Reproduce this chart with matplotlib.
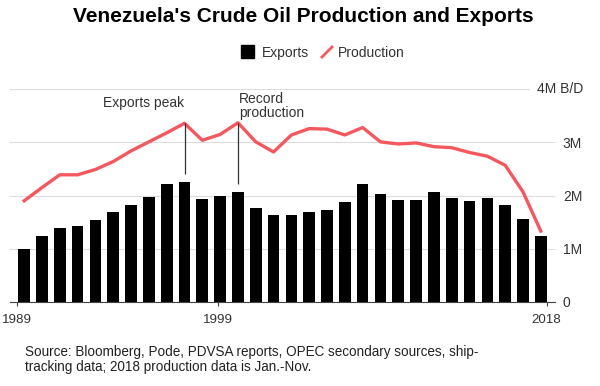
import matplotlib
matplotlib.use("Agg")
import matplotlib.pyplot as plt
from matplotlib.patches import Rectangle
from matplotlib.lines import Line2D
from matplotlib.transforms import blended_transform_factory

plt.rcParams['font.family'] = ['Liberation Sans', 'DejaVu Sans']

years = list(range(1989, 2019))
exports = [0.99, 1.24, 1.38, 1.43, 1.54, 1.69, 1.82, 1.98, 2.21, 2.26,
           1.93, 2.00, 2.07, 1.77, 1.64, 1.63, 1.68, 1.73, 1.87, 2.21,
           2.02, 1.91, 1.91, 2.07, 1.95, 1.89, 1.95, 1.82, 1.56, 1.24]
production = [1.90, 2.15, 2.39, 2.39, 2.49, 2.64, 2.84, 3.01, 3.18, 3.36,
              3.04, 3.15, 3.37, 3.01, 2.82, 3.14, 3.26, 3.25, 3.14, 3.28,
              3.01, 2.97, 2.99, 2.92, 2.90, 2.81, 2.74, 2.57, 2.07, 1.33]
y_ticks = [0, 1, 2, 3]
y_labels = ["0", "1M", "2M", "3M"]
x_tick_labels = ["1989", "1999", "2018"]
x_tick_pos = [1988.61, 1999.9, 2018.33]

W, H = 600, 386
fig = plt.figure(figsize=(6, 3.86), dpi=100)
fx = lambda px: px / W
fy = lambda py: 1 - py / H

ax = fig.add_axes([fx(10), fy(301.7), fx(554.5) - fx(10), fy(89.3) - fy(301.7)])

RED = "#f4585f"
TXT = "#333333"

ax.bar(years, exports, width=0.655, color="black", zorder=3)
ax.plot(years, production, color=RED, lw=2.4, zorder=4, solid_joinstyle='round')

ax.set_xlim(1989 - 0.796, 2018 + 0.77)
ax.set_ylim(0, 4)

for s in ['top', 'left', 'right']:
    ax.spines[s].set_visible(False)
ax.spines['bottom'].set_color('#444444')
ax.spines['bottom'].set_linewidth(0.8)
ax.spines['bottom'].set_zorder(2)

ax.set_yticks([0, 1, 2, 3, 4])
ax.set_yticklabels(y_labels + [""])
ax.yaxis.tick_right()
ax.tick_params(axis='y', length=0, pad=6, labelsize=10, labelcolor=TXT)
ax.grid(axis='y', color='#dcdcdc', lw=0.8, zorder=0)
ax.set_axisbelow(True)

ax.set_xticks(x_tick_pos)
ax.set_xticklabels(x_tick_labels)
ax.tick_params(axis='x', length=3.2, width=0.8, color='#444444', pad=6,
               labelsize=9.6, labelcolor=TXT)

# top y label
tr = blended_transform_factory(fig.transFigure, ax.transData)
ax.text(fx(583), 4, "4M B/D", transform=tr, ha='right', va='center',
        fontsize=10, color=TXT,
        bbox=dict(boxstyle='square,pad=0.5', fc='white', ec='none'), zorder=5)

# annotations
i98 = years.index(1998)
i01 = years.index(2001)
ax.vlines(1998, exports[i98] + 0.14, production[i98] + 0.01, color='#333333', lw=0.9, zorder=5)
ax.vlines(2001, exports[i01] + 0.14, production[i01], color='#333333', lw=0.9, zorder=5)
ax.text(1998, 3.661, "Exports peak", ha='right', va='baseline', fontsize=10, color=TXT)
ax.text(2001.05, 3.736, "Record", ha='left', va='baseline', fontsize=10, color=TXT)
ax.text(2001.05, 3.484, "production", ha='left', va='baseline', fontsize=10, color=TXT)

# title
fig.text(0.505, fy(21.7), "Venezuela's Crude Oil Production and Exports", ha='center',
         va='baseline', fontsize=15, fontweight='bold', color='black')

# legend
fig.patches.append(Rectangle((fx(241), fy(58)), fx(254) - fx(241), fy(45) - fy(58),
                             transform=fig.transFigure, color='black'))
fig.text(fx(261.5), fy(56.7), "Exports", ha='left', va='baseline', fontsize=10, color=TXT)
fig.lines.append(Line2D([fx(322), fx(332)], [fy(57), fy(47)], transform=fig.transFigure,
                        color=RED, lw=2.0))
fig.text(fx(337.5), fy(56.7), "Production", ha='left', va='baseline', fontsize=10, color=TXT)

# source
fig.text(fx(25), fy(355.7), "Source: Bloomberg, Pode, PDVSA reports, OPEC secondary sources, ship-",
         ha='left', va='baseline', fontsize=9.75, color='#222222')
fig.text(fx(25), fy(370.5), "tracking data; 2018 production data is Jan.-Nov.",
         ha='left', va='baseline', fontsize=9.75, color='#222222')

fig.savefig("out.png", dpi=100, facecolor='white')
